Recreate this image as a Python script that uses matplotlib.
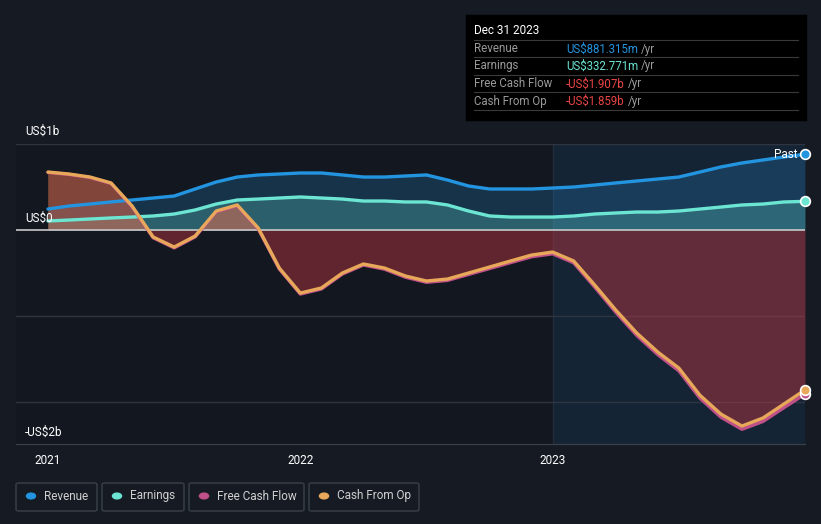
import numpy as np
import matplotlib
matplotlib.use("Agg")
import matplotlib.pyplot as plt
from matplotlib.patches import Rectangle, FancyBboxPatch

plt.rcParams["font.family"] = ["Roboto", "DejaVu Sans"]

# monthly points, Jan 2021 -> Dec 2023 (values in US$ billions)
months = np.arange(37)
years = 2021 + months / 12.0

revenue = [0.244, 0.279, 0.302, 0.326, 0.349, 0.372, 0.395, 0.477, 0.558, 0.616,
           0.640, 0.651, 0.663, 0.663, 0.640, 0.616, 0.616, 0.628, 0.640, 0.581,
           0.512, 0.477, 0.477, 0.477, 0.488, 0.500, 0.523, 0.547, 0.570, 0.593,
           0.616, 0.674, 0.733, 0.779, 0.814, 0.849, 0.881]
earnings = [0.105, 0.116, 0.128, 0.140, 0.151, 0.163, 0.186, 0.233, 0.302, 0.349,
            0.360, 0.372, 0.384, 0.372, 0.360, 0.337, 0.337, 0.326, 0.326, 0.291,
            0.221, 0.163, 0.151, 0.151, 0.151, 0.163, 0.186, 0.198, 0.209, 0.209,
            0.221, 0.244, 0.267, 0.291, 0.302, 0.326, 0.333]
cash_from_op = [0.674, 0.651, 0.616, 0.547, 0.279, -0.081, -0.198, -0.070, 0.221, 0.291,
                0.023, -0.442, -0.733, -0.674, -0.500, -0.395, -0.442, -0.535, -0.593, -0.570,
                -0.500, -0.430, -0.360, -0.291, -0.256, -0.360, -0.640, -0.930, -1.198, -1.419,
                -1.605, -1.920, -2.140, -2.279, -2.186, -2.023, -1.859]
free_cash_flow = [0.670, 0.646, 0.610, 0.540, 0.270, -0.090, -0.208, -0.080, 0.212, 0.282,
                  0.012, -0.453, -0.745, -0.686, -0.512, -0.407, -0.455, -0.549, -0.608, -0.586,
                  -0.517, -0.448, -0.379, -0.311, -0.277, -0.382, -0.664, -0.956, -1.226, -1.449,
                  -1.637, -1.954, -2.176, -2.317, -2.226, -2.065, -1.907]

BG = "#151a23"
C_REV = "#2394df"
C_EARN = "#6ce5d3"
C_FCF = "#c0508a"
C_CFO = "#e8a85a"
RED = "#e84545"

fig = plt.figure(figsize=(8.21, 5.24), dpi=100, facecolor=BG)
ax = fig.add_axes([16 / 821, 1 - 444 / 524, (805 - 16) / 821, 300 / 524])
ax.set_facecolor("#131820")
x0 = 2021 - 32 / 252.5
ax.set_xlim(x0, 2024.0)
ax.set_ylim(-2.488, 1.0)

# shaded "past" region from 2023
ax.axvspan(2023, 2024, color="#16293b", alpha=0.75, lw=0, zorder=0)
ax.axvline(2023, color="#222c3a", lw=1, zorder=0.5)

for yv in [1, -1, -2]:
    ax.axhline(yv, color="#2e3540", lw=1, zorder=1)

# fills
ax.fill_between(years, 0, revenue, color=C_REV, alpha=0.22, lw=0, zorder=2)
ax.fill_between(years, 0, earnings, color=C_EARN, alpha=0.25, lw=0, zorder=2)
ax.fill_between(years, 0, free_cash_flow, color="#d83a48", alpha=0.4, lw=0, zorder=2)
ax.fill_between(years, 0, cash_from_op, where=np.array(cash_from_op) > 0,
                color=C_CFO, alpha=0.25, lw=0, zorder=2, interpolate=True)

ax.axhline(0, color="#c8c8c8", lw=1.2, zorder=3)

ax.plot(years, revenue, color=C_REV, lw=2.4, zorder=4, solid_capstyle="round", solid_joinstyle="round")
ax.plot(years, earnings, color=C_EARN, lw=2.4, zorder=4, solid_capstyle="round", solid_joinstyle="round")
ax.plot(years, free_cash_flow, color=C_FCF, lw=2.4, zorder=5, solid_capstyle="round", solid_joinstyle="round")
ax.plot(years, cash_from_op, color=C_CFO, lw=2.4, zorder=6, solid_capstyle="round", solid_joinstyle="round")

# end markers
for series, col in [(revenue, C_REV), (earnings, C_EARN), (free_cash_flow, C_FCF), (cash_from_op, C_CFO)]:
    ax.plot(years[-1], series[-1], "o", ms=7, mfc=col, mec="white", mew=1.2, zorder=7, clip_on=False)

ax.text(years[-1] - 0.03, revenue[-1], "Past", color="white", fontsize=8.5,
        ha="right", va="center", zorder=8)

for s in ax.spines.values():
    s.set_visible(False)
ax.spines["bottom"].set_visible(True)
ax.spines["bottom"].set_color("#3a414c")
ax.set_yticks([])
ax.set_xticks([2021, 2022, 2023])
ax.set_xticklabels(["2021", "2022", "2023"], color="white", fontsize=8.5)
ax.tick_params(axis="x", length=0, pad=7)

# y labels
fig.text(25 / 821, 1 - 131 / 524, "US$1b", color="white", fontsize=8.5, va="center")
fig.text(25 / 821, 1 - 218 / 524, "US$0", color="white", fontsize=8.5, va="center")
fig.text(25 / 821, 1 - 432 / 524, "-US$2b", color="white", fontsize=8.5, va="center")

# tooltip box
fig.patches.append(Rectangle((466 / 821, 1 - 120 / 524), 340 / 821, 105 / 524,
                             transform=fig.transFigure, color="black", zorder=10))
fig.text(474 / 821, 1 - 31 / 524, "Dec 31 2023", color="white", fontsize=8.5, va="center", zorder=11)
for yl in [40, 57, 75, 92, 110]:
    fig.lines.append(plt.Line2D([474 / 821, 798 / 821], [1 - yl / 524] * 2,
                                transform=fig.transFigure, color="#3a3a3a", lw=0.8, zorder=11))
rows = [("Revenue", "US$881.315m", C_REV, 49),
        ("Earnings", "US$332.771m", C_EARN, 66),
        ("Free Cash Flow", "-US$1.907b", RED, 84),
        ("Cash From Op", "-US$1.859b", RED, 101)]
for name, val, col, yy in rows:
    fig.text(474 / 821, 1 - yy / 524, name, color="#9a9a9a", fontsize=8.3, va="center", zorder=11)
    t = fig.text(566 / 821, 1 - yy / 524, val, color=col, fontsize=8.3, va="center", zorder=11)
    fig.canvas.draw()
    bb = t.get_window_extent()
    fig.text(bb.x1 / 821 + 3 / 821, 1 - yy / 524, "/yr", color="#9a9a9a", fontsize=8.3,
             va="center", zorder=11)

# legend boxes
legend = [("Revenue", C_REV, 16, 97), ("Earnings", C_EARN, 102, 184),
          ("Free Cash Flow", C_FCF, 189, 304), ("Cash From Op", C_CFO, 309, 419)]
for name, col, xa, xb in legend:
    fig.patches.append(FancyBboxPatch((xa / 821, 1 - 511 / 524), (xb - xa) / 821, 28 / 524,
                                      boxstyle="round,pad=0,rounding_size=0.003",
                                      transform=fig.transFigure, fc="none", ec="#3a414c", lw=1))
    fig.patches.append(plt.Circle(((xa + 15) / 821, 1 - 496 / 524), 0.0055,
                                  transform=fig.transFigure, color=col))
    fig.text((xa + 28) / 821, 1 - 496 / 524, name, color="#d0d0d0", fontsize=8.5, va="center")

fig.savefig("out.png", dpi=100, facecolor=BG)
